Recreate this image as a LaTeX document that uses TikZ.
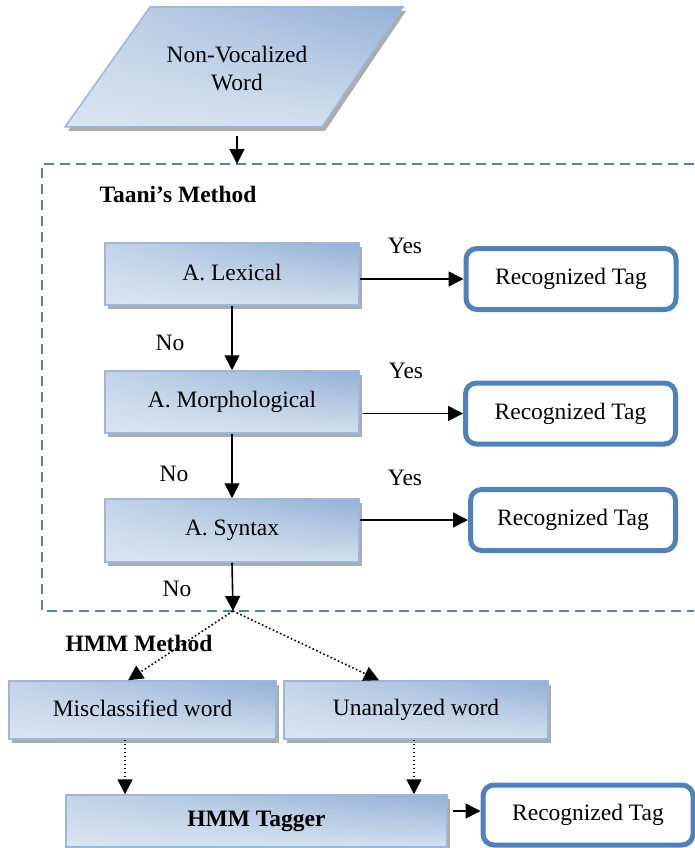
\documentclass[tikz,border=0pt]{standalone}
\usepackage{fontspec}
\setmainfont{Liberation Serif}
\usetikzlibrary{arrows.meta,shadows,fadings}
\definecolor{bdr}{HTML}{9BB7DA}
\definecolor{dk}{HTML}{93B1D6}
\definecolor{lt}{HTML}{DFE8F3}
\definecolor{md}{HTML}{C3D4E9}
\definecolor{tagblue}{HTML}{4F81BD}
\tikzfading[name=fadeup, top color=transparent!100, bottom color=transparent!15]
\tikzset{
  shd/.style={drop shadow={shadow xshift=3pt,shadow yshift=-4pt,fill=gray!65,opacity=1}},
  gfill/.style={left color=md,middle color=lt,right color=dk,
     path picture={\fill[lt,path fading=fadeup] (path picture bounding box.south west) rectangle (path picture bounding box.north east);}},
  gbox/.style={shd,draw=bdr,line width=1.5pt,gfill,minimum height=62pt,inner sep=0pt},
  tag/.style={draw=tagblue,line width=5pt,rounded corners=11pt,fill=white,minimum width=210pt,minimum height=61pt,inner sep=0pt},
  lbl/.style={inner sep=0pt},
  arr/.style={line width=1.6pt,-{Triangle[length=15pt,width=15pt]}},
  dotarr/.style={line width=1.6pt,dash pattern=on 1.6pt off 2.4pt,-{Triangle[length=15pt,width=15pt]}},
  dashbox/.style={draw=tagblue,line width=2.2pt,dash pattern=on 10pt off 6pt}
}
\begin{document}
\begin{tikzpicture}[x=1pt,y=-1pt,font=\rmfamily\fontsize{23.5}{28}\selectfont]
\useasboundingbox (0,0) rectangle (694,848);
% parallelogram
\path[shd,draw=bdr,line width=1.5pt,gfill]
  (150,7) -- (403,7) -- (322,127) -- (65,127) -- cycle;
\node[lbl,align=center] (nv) at (237,69) {Non-Vocalized\\Word};
\coordinate (nvb) at (237,136);
\coordinate (tb) at (237,164);
% dashed box
\draw[dashbox] (694,164) -- (42,164) -- (42,611) -- (694,611);
\node[lbl,font=\rmfamily\fontsize{23.5}{28}\selectfont\bfseries] (taani) at (178,194) {Taani’s Method};
% Taani boxes
\node[gbox,minimum width=254pt] (lex) at (232,274) {\raisebox{4pt}{A. Lexical}};
\node[gbox,minimum width=254pt] (morph) at (232,402) {\raisebox{4pt}{A. Morphological}};
\node[gbox,minimum width=254pt,minimum height=63pt] (syn) at (232,530.5) {\raisebox{3pt}{A. Syntax}};
\node[tag] (rt1) at (571,279) {Recognized Tag};
\node[tag] (rt2) at (570.5,413.5) {Recognized Tag};
\node[tag,minimum width=205pt] (rt3) at (573,520) {Recognized Tag};
\node[lbl] (yes1) at (405,246) {Yes};
\node[lbl] (yes2) at (406,371) {Yes};
\node[lbl] (yes3) at (405,478) {Yes};
\node[lbl] (no1) at (170,343) {No};
\node[lbl] (no2) at (174,474) {No};
\node[lbl] (no3) at (177,589) {No};
\coordinate (split) at (233,611);
% HMM part
\node[lbl,font=\rmfamily\fontsize{23.5}{28}\selectfont\bfseries] (hmmm) at (139,643) {HMM Method};
\node[gbox,minimum width=267pt,minimum height=58pt] (mis) at (142.5,710) {\raisebox{3pt}{Misclassified word}};
\node[gbox,minimum width=264pt,minimum height=58pt] (una) at (416,710) {\raisebox{3pt}{Unanalyzed word}};
\node[gbox,minimum width=381pt,minimum height=52pt] (hmm) at (256.5,821) {\raisebox{3pt}{\bfseries HMM Tagger}};
\node[tag,minimum width=210pt,minimum height=60pt] (rt4) at (588,815) {Recognized Tag};
% connectors
\draw[arr] (nvb) -- (tb);
\draw[arr] (lex.east |- rt1.west) -- (rt1.west);
\draw[arr,shorten <=3pt] (morph.east |- rt2.west) -- (rt2.west);
\draw[arr] (syn.east |- rt3.west) -- (rt3.west);
\draw[arr] (lex.south) -- (morph.north);
\draw[arr] (morph.south) -- (syn.north);
\draw[arr] (syn.south) -- (split);
\draw[dotarr] (split) -- ([xshift=-14.5pt]mis.north);
\draw[dotarr] (split) -- ([xshift=-37pt]una.north);
\draw[dotarr] ([xshift=-17.5pt]mis.south) -- ([xshift=-131.5pt]hmm.north);
\draw[dotarr] ([xshift=-2pt]una.south) -- ([xshift=157.5pt]hmm.north);
\draw[arr,shorten <=5pt] ([yshift=10pt]hmm.east) -- ([yshift=10pt]hmm.east -| rt4.west);
\end{tikzpicture}
\end{document}
